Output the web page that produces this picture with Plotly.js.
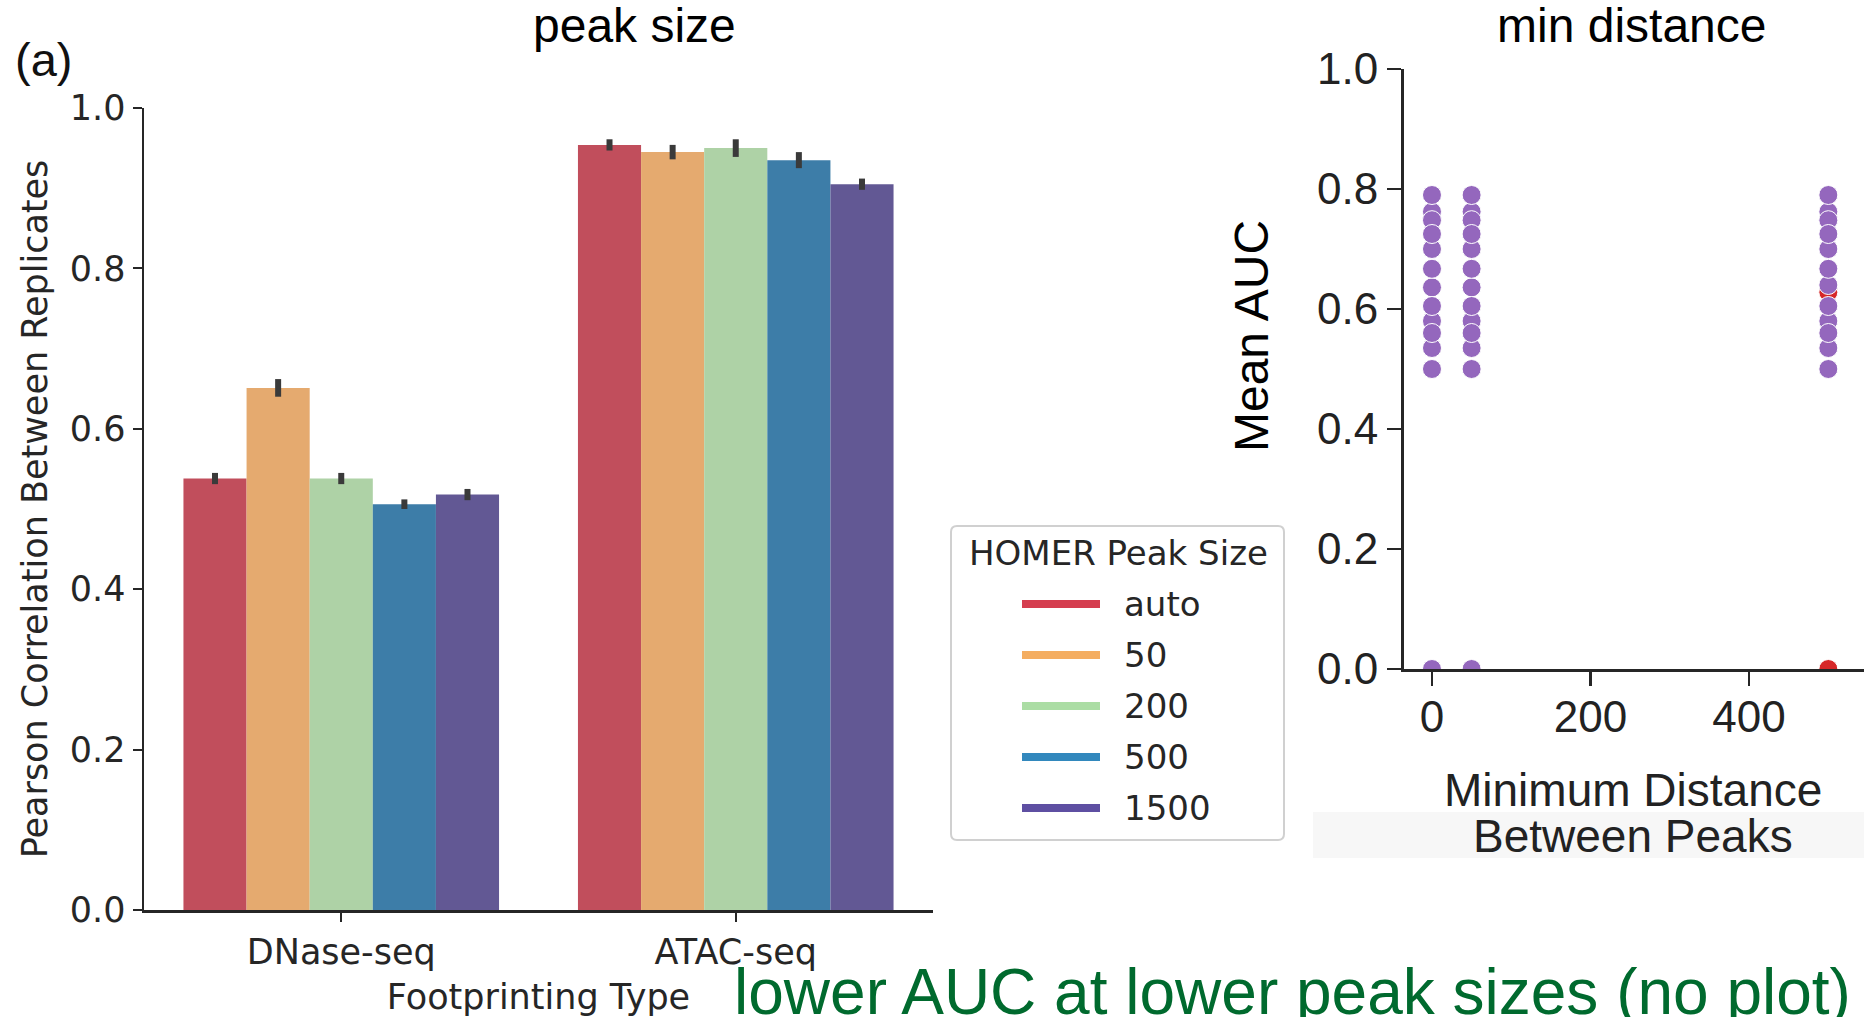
<!DOCTYPE html>
<html>
<head>
<meta charset="utf-8">
<script src="https://cdn.plot.ly/plotly-3.0.1.min.js"></script>
<style>html,body{margin:0;padding:0;background:#fff;}#chart{width:1864px;height:1017px;}</style>
</head>
<body>
<div id="chart"></div>
<script>
// ---- Data: left panel (bar chart) ----
const categories = ['DNase-seq', 'ATAC-seq'];
const peakSizes = ['auto', '50', '200', '500', '1500'];
const corrAuto = [0.538, 0.954];
const corr50   = [0.651, 0.945];
const corr200  = [0.538, 0.950];
const corr500  = [0.506, 0.935];
const corr1500 = [0.518, 0.905];
const errAuto = [0.007, 0.007];
const err50   = [0.011, 0.009];
const err200  = [0.007, 0.011];
const err500  = [0.006, 0.010];
const err1500 = [0.007, 0.007];
const barColors    = ['#c14e5c', '#e5aa6f', '#aed2a6', '#3d7da8', '#625894'];
const legendColors = ['#d53e4f', '#f4ad60', '#abdda4', '#3288bd', '#5e4fa2'];
const yTicksLeft = [0, 0.2, 0.4, 0.6, 0.8, 1.0];

// ---- Data: right panel (scatter) ----
const distances = [0, 50, 500];
const aucAt0   = [0.762, 0.748, 0.700, 0.636, 0.580, 0.535, 0.790, 0.725, 0.667, 0.605, 0.560, 0.500, 0.0];
const aucAt50  = [0.762, 0.748, 0.700, 0.636, 0.580, 0.535, 0.790, 0.725, 0.667, 0.605, 0.560, 0.500, 0.0];
const aucAt500 = [0.762, 0.748, 0.700, 0.640, 0.580, 0.535, 0.790, 0.725, 0.667, 0.605, 0.560, 0.500];
const aucRedAt500 = [0.628, 0.0];
const yTicksRight = [0, 0.2, 0.4, 0.6, 0.8, 1.0];
const xTicksRight = [0, 200, 400];

// ---- helpers (pixel -> paper) ----
const W = 1864, H = 1017;
const px = x => x / W;
const py = y => 1 - y / H;

const DEJ = 'DejaVu Sans, Verdana, sans-serif';
const ARI = 'Liberation Sans, Arial, sans-serif';

const seriesVals = [corrAuto, corr50, corr200, corr500, corr1500];
const seriesErr = [errAuto, err50, err200, err500, err1500];

const traces = peakSizes.map((name, i) => ({
  type: 'bar', name: name, x: categories, y: seriesVals[i],
  marker: {color: barColors[i], line: {width: 0}},
  error_y: {type: 'data', array: seriesErr[i], visible: true, color: '#3a3a3a', thickness: 6, width: 0},
  xaxis: 'x', yaxis: 'y', showlegend: false
}));

// red points first (mostly hidden beneath purple)
traces.push({
  type: 'scatter', mode: 'markers', name: 'red',
  x: aucRedAt500.map(() => distances[2]), y: aucRedAt500,
  marker: {color: '#d62728', size: 19, line: {color: '#ffffff', width: 1}},
  xaxis: 'x2', yaxis: 'y2', showlegend: false, cliponaxis: true
});
const purpleCols = [aucAt0, aucAt50, aucAt500];
const pX = [], pY = [];
purpleCols.forEach((col, i) => col.forEach(v => { pX.push(distances[i]); pY.push(v); }));
traces.push({
  type: 'scatter', mode: 'markers', name: 'purple',
  x: pX, y: pY,
  marker: {color: '#9467bd', size: 19, line: {color: '#ffffff', width: 1}},
  xaxis: 'x2', yaxis: 'y2', showlegend: false, cliponaxis: true
});

// Legend built manually (matplotlib-style line handles)
const legBox = {x0: 951, y0: 526, x1: 1284, y1: 840};
const shapes = [];
const annotations = [];

// faint grey band under right panel (pasted image edge)
shapes.push({type: 'rect', xref: 'paper', yref: 'paper', layer: 'below',
  x0: px(1313), x1: px(1864), y0: py(858), y1: py(812),
  fillcolor: '#f7f7f7', line: {width: 0}});

// legend frame with rounded corners
(function(){
  const r = 6;
  const X0 = legBox.x0, X1 = legBox.x1, Y0 = legBox.y0, Y1 = legBox.y1;
  const p = (x, y) => px(x) + ',' + py(y);
  const path = 'M' + p(X0 + r, Y0) + ' L' + p(X1 - r, Y0) + ' Q' + p(X1, Y0) + ' ' + p(X1, Y0 + r) +
    ' L' + p(X1, Y1 - r) + ' Q' + p(X1, Y1) + ' ' + p(X1 - r, Y1) +
    ' L' + p(X0 + r, Y1) + ' Q' + p(X0, Y1) + ' ' + p(X0, Y1 - r) +
    ' L' + p(X0, Y0 + r) + ' Q' + p(X0, Y0) + ' ' + p(X0 + r, Y0) + ' Z';
  shapes.push({type: 'path', xref: 'paper', yref: 'paper', path: path,
    fillcolor: 'rgba(255,255,255,0.8)', line: {color: '#d0d0d0', width: 2}});
})();
annotations.push({xref: 'paper', yref: 'paper', x: px(1118), y: py(553), xanchor: 'center', yanchor: 'middle',
  text: 'HOMER Peak Size', showarrow: false, font: {family: DEJ, size: 34, color: '#262626'}});
peakSizes.forEach((name, i) => {
  const cy = 604 + i * 51;
  shapes.push({type: 'line', xref: 'paper', yref: 'paper', x0: px(1022), x1: px(1100), y0: py(cy), y1: py(cy),
    line: {color: legendColors[i], width: 8}});
  annotations.push({xref: 'paper', yref: 'paper', x: px(1122), y: py(cy), xanchor: 'left', yanchor: 'middle',
    text: name, showarrow: false, font: {family: DEJ, size: 34, color: '#262626'}});
});

// titles and labels
annotations.push({xref: 'paper', yref: 'paper', x: px(634), y: py(26), xanchor: 'center', yanchor: 'middle',
  text: 'peak size', showarrow: false, font: {family: ARI, size: 48, color: '#000'}});
annotations.push({xref: 'paper', yref: 'paper', x: px(1631), y: py(26), xanchor: 'center', yanchor: 'middle',
  text: 'min distance', showarrow: false, font: {family: ARI, size: 48, color: '#000'}});
annotations.push({xref: 'paper', yref: 'paper', x: px(43), y: py(60), xanchor: 'center', yanchor: 'middle',
  text: '(a)', showarrow: false, font: {family: ARI, size: 47, color: '#111'}});
annotations.push({xref: 'paper', yref: 'paper', x: px(732), y: py(992), xanchor: 'left', yanchor: 'middle',
  text: 'lower AUC at lower peak sizes (no plot)', showarrow: false, font: {family: ARI, size: 64, color: '#006a2e'}});
// right panel axis titles
annotations.push({xref: 'paper', yref: 'paper', x: px(1251), y: py(336), xanchor: 'center', yanchor: 'middle',
  text: 'Mean AUC', textangle: -90, showarrow: false, font: {family: ARI, size: 48, color: '#000'}});
annotations.push({xref: 'paper', yref: 'paper', x: px(1633), y: py(790), xanchor: 'center', yanchor: 'middle',
  text: 'Minimum Distance', showarrow: false, font: {family: ARI, size: 46, color: '#222'}});
annotations.push({xref: 'paper', yref: 'paper', x: px(1633), y: py(836), xanchor: 'center', yanchor: 'middle',
  text: 'Between Peaks', showarrow: false, font: {family: ARI, size: 46, color: '#222'}});

const layout = {
  width: W, height: H,
  margin: {l: 0, r: 0, t: 0, b: 0},
  paper_bgcolor: '#ffffff', plot_bgcolor: 'rgba(0,0,0,0)',
  barmode: 'group', bargap: 0.2, bargroupgap: 0,
  showlegend: false,
  xaxis: {
    domain: [px(144), px(933)], anchor: 'y', type: 'category', range: [-0.5, 1.5],
    showline: true, linecolor: '#262626', linewidth: 2.5, mirror: false,
    ticks: 'outside', ticklen: 9, tickwidth: 2, tickcolor: '#262626',
    tickfont: {family: DEJ, size: 35, color: '#262626'},
    showgrid: false, zeroline: false,
    title: {text: 'Footprinting Type', font: {family: DEJ, size: 35, color: '#262626'}, standoff: 14},
    automargin: false
  },
  yaxis: {
    domain: [py(910), py(108)], anchor: 'x', range: [0, 1],
    tickvals: yTicksLeft, ticktext: yTicksLeft.map(v => v.toFixed(1)),
    showline: true, linecolor: '#262626', linewidth: 2.5,
    ticks: 'outside', ticklen: 9, tickwidth: 2, tickcolor: '#262626',
    tickfont: {family: DEJ, size: 35, color: '#262626'},
    showgrid: false, zeroline: false,
    title: {text: 'Pearson Correlation Between Replicates', font: {family: DEJ, size: 35, color: '#262626'}, standoff: 12},
    automargin: false
  },
  xaxis2: {
    domain: [px(1404), 1], anchor: 'y2', range: [-35.3, 545],
    tickvals: xTicksRight, ticktext: xTicksRight.map(String),
    showline: true, linecolor: '#262626', linewidth: 3,
    ticks: 'outside', ticklen: 14, tickwidth: 2.5, tickcolor: '#262626',
    tickfont: {family: ARI, size: 44, color: '#222'}, ticklabelstandoff: -7,
    showgrid: false, zeroline: false,
    automargin: false
  },
  yaxis2: {
    domain: [py(669), py(69)], anchor: 'x2', range: [0, 1],
    tickvals: yTicksRight, ticktext: yTicksRight.map(v => v.toFixed(1)),
    showline: true, linecolor: '#262626', linewidth: 3,
    ticks: 'outside', ticklen: 14, tickwidth: 2.5, tickcolor: '#262626',
    tickfont: {family: ARI, size: 44, color: '#222'},
    showgrid: false, zeroline: false,
    automargin: false
  },
  shapes: shapes,
  annotations: annotations
};

Plotly.newPlot('chart', traces, layout, {displayModeBar: false, responsive: false, staticPlot: true});
</script>
</body>
</html>
